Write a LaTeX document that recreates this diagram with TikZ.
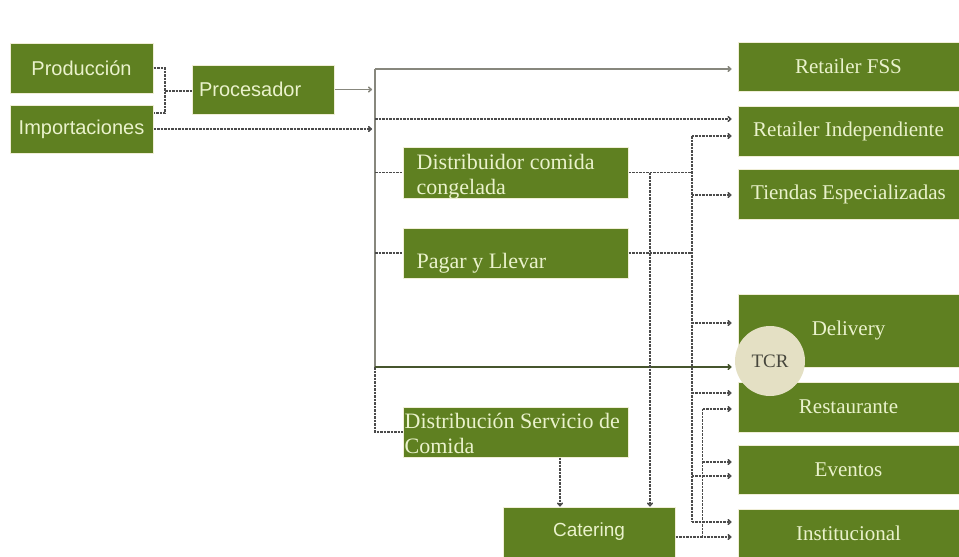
\documentclass[tikz,border=0pt]{standalone}
\usepackage{fontspec}
\setmainfont{Liberation Serif}
\newfontfamily\sansfont{Liberation Sans}
\usetikzlibrary{arrows.meta}
\definecolor{olive}{RGB}{95,128,33}
\definecolor{cream}{RGB}{240,238,215}
\definecolor{boxtxt}{RGB}{234,242,204}
\definecolor{tcrfill}{RGB}{228,224,196}
\definecolor{tcrtxt}{RGB}{70,70,60}
\definecolor{lgrey}{RGB}{135,135,125}
\definecolor{dgrey}{RGB}{75,75,75}
\definecolor{dline}{RGB}{70,85,45}
\begin{document}
\begin{tikzpicture}[x=1pt, y=-1pt,
    box/.style = {fill=olive, draw=cream, line width=1pt, text=boxtxt, inner sep=0pt},
    sbox/.style = {box, font=\sansfont\fontsize{20}{24}\selectfont},
    rbox/.style = {box, minimum width=221pt, font=\fontsize{21}{25}\selectfont},
    btext/.style = {text=boxtxt, inner sep=0pt, align=left, font=\fontsize{22}{25}\selectfont},
    solidline/.style = {lgrey, line width=1.5pt},
    dashline/.style = {dgrey, line width=1.5pt, dash pattern=on 2.5pt off 1pt},
    >={To[length=4pt,width=6pt]}]
    \useasboundingbox (0,0) rectangle (959,557);
    % sources
    \node[sbox, minimum width=143pt, minimum height=50pt] (prod) at (81.5,68) {Producción};
    \node[sbox, minimum width=143pt, minimum height=48pt] (imp) at (81.5,129) {Importaciones};
    \node[sbox, minimum width=142pt, minimum height=49pt, text width=128pt, align=left] (proc) at (263,89.5) {Procesador};
    % middle
    \node[box, minimum width=225pt, minimum height=51pt] (dcc) at (515.5,172.5) {};
    \node[box, minimum width=225pt, minimum height=50pt] (pagar) at (515.5,253) {};
    \node[box, minimum width=225pt, minimum height=50pt] (dsc) at (515.5,432) {};
    \node[btext, anchor=north west] (dcct) at ([xshift=14pt, yshift=-8pt]dcc.north west) {Distribuidor comida\\congelada};
    \node[btext, anchor=base west] (pagart) at ([xshift=14pt, yshift=-15pt]pagar.west) {Pagar y Llevar};
    \node[btext, anchor=north west] (dsct) at ([xshift=2pt, yshift=-6pt]dsc.north west) {Distribución Servicio de\\Comida};
    \node[box, minimum width=172pt, minimum height=50pt, font=\sansfont\fontsize{19}{23}\selectfont] (cat) at (589,532) {Catering};
    % outlets
    \node[rbox, minimum height=49pt] (fss) at (848.5,66.5) {Retailer FSS};
    \node[rbox, minimum height=50pt] (rind) at (848.5,131) {Retailer Independiente};
    \node[rbox, minimum height=50pt] (tiend) at (848.5,194) {Tiendas Especializadas};
    \node[rbox, minimum height=73pt] (deliv) at (848.5,330.5) {Delivery};
    \node[rbox, minimum height=50pt] (rest) at (848.5,407) {Restaurante};
    \node[rbox, minimum height=49pt] (event) at (848.5,469.5) {Eventos};
    \node[rbox, minimum height=48pt] (inst) at (848.5,533) {Institucional};
    \node[circle, fill=tcrfill, minimum size=70pt, inner sep=0pt, text=tcrtxt,
          font=\fontsize{19}{22}\selectfont] (tcr) at (770,361) {TCR};
    %
    \coordinate (bk) at (165,91);
    \coordinate (trunk) at (375,69);
    \coordinate (t2) at (375,119);
    \coordinate (mid) at (375,367);
    \coordinate (trunkend) at (375,432);
    \coordinate (c0) at (560,0);
    \coordinate (c1) at (650,0);
    \coordinate (c2) at (692,0);
    \coordinate (c2top) at (692,136);
    \coordinate (c2bot) at (692,522);
    \coordinate (c3) at (703,0);
    %
    \draw[dashline] (prod.east) -| (bk) |- ([yshift=16pt]imp.east);
    \draw[dashline] (bk) -- (bk -| proc.west);
    \draw[solidline, ->, shorten >=3pt] (proc.east) -- (proc.east -| trunk);
    \draw[dashline, ->, shorten >=3pt] (imp.east) -- (imp.east -| trunk);
    \draw[solidline] (trunk) -- (mid);
    \draw[dashline] (mid) -- (trunkend) -- (dsc.west);
    \draw[solidline, ->, shorten >=6pt] (trunk) -- (trunk -| fss.west);
    \draw[dashline, ->, shorten >=6pt] (t2) -- (t2 -| rind.west);
    \draw[dashline] (trunk |- dcc.west) -- (dcc.west);
    \draw[dashline] (trunk |- pagar.west) -- (pagar.west);
    \draw[dline, line width=1.5pt, ->, shorten >=6pt] (mid) -- (mid -| rest.west);
    %
    \draw[dashline] (dcc.east) -- (dcc.east -| c2);
    \draw[dashline] (pagar.east) -- (pagar.east -| c2);
    \draw[dashline, ->] (c1 |- dcc.east) -- (c1 |- cat.north);
    \draw[dashline, ->] (c0 |- dsc.south) -- (c0 |- cat.north);
    \draw[dashline] (c2top) -- (c2bot);
    \foreach \t/\s in {rind/-5, tiend/-1, deliv/7.5, rest/14, event/-6.5, inst/11}
        \draw[dashline, ->] ([xshift=-46pt, yshift=\s pt]\t.west) -- ([xshift=-6pt, yshift=\s pt]\t.west);
    \draw[dashline, ->] ([yshift=-5pt]cat.east) -- ([xshift=-6pt, yshift=-4pt]inst.west);
    \draw[dashline] ([xshift=-35pt, yshift=-4pt]inst.west) -- ([xshift=-35pt, yshift=-2pt]rest.west);
    \foreach \t/\s in {rest/-2, event/7.5}
        \draw[dashline, ->] ([xshift=-35pt, yshift=\s pt]\t.west) -- ([xshift=-6pt, yshift=\s pt]\t.west);
\end{tikzpicture}
\end{document}
